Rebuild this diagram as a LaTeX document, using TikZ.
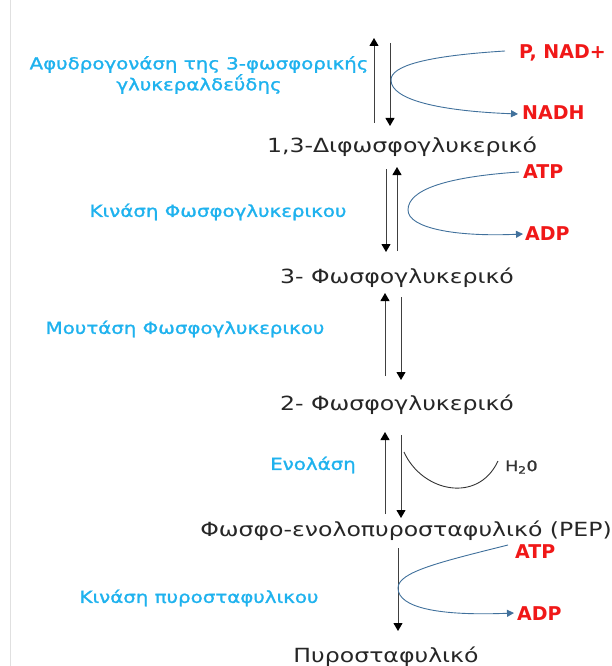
\documentclass[tikz,border=0pt]{standalone}
\usepackage{fontspec}
\setmainfont{DejaVu Sans}
\newfontfamily\molfont[FakeStretch=1.21]{DejaVu Sans}
\newfontfamily\semib[FakeBold=1.5,FakeStretch=1.2]{DejaVu Sans}
\newfontfamily\watfont[FakeBold=1.5,FakeStretch=1.2]{DejaVu Sans}
\usetikzlibrary{arrows.meta}
\definecolor{enz}{HTML}{1FB2EE}
\definecolor{cof}{HTML}{F01818}
\definecolor{curv}{HTML}{41719C}
\tikzset{
  mol/.style={font=\molfont\fontsize{19.5}{24}\selectfont, text=black!85, inner sep=0pt},
  enzyme/.style={font=\semib\fontsize{16.5}{21}\selectfont, text=enz, inner sep=0pt, align=center},
  cofac/.style={font=\bfseries\fontsize{19}{22}\selectfont, text=cof, inner sep=0pt},
  rxn/.style={line width=1pt, draw=black!75, -{Triangle[length=8pt,width=9pt,color=black]}},
  side/.style={line width=0.9pt, draw=curv, -{Triangle[length=7pt,width=7pt]}},
  water/.style={line width=0.9pt, draw=black!80}
}
\begin{document}
\begin{tikzpicture}[x=1pt,y=-1pt]
\useasboundingbox (0,0) rectangle (612,666);
\draw[black!12, line width=0.8pt] (10,0) -- (10,666);

% molecules
\node[mol] (bpg) at (402,147) {1,3-Διφωσφογλυκερικό};
\node[mol] (pg3) at (397,278) {3- Φωσφογλυκερικό};
\node[mol] (pg2) at (397,405) {2- Φωσφογλυκερικό};
\node[mol] (pep) at (406,531) {Φωσφο-ενολοπυροσταφυλικό (PEP)};
\node[mol] (pyr) at (386,657) {Πυροσταφυλικό};

% enzymes
\node[enzyme] (e1) at (199,75) {Αφυδρογονάση της 3-φωσφορικής\\γλυκεραλδεΰδης};
\node[enzyme] (e2) at (218,212) {Κινάση Φωσφογλυκερικου};
\node[enzyme] (e3) at (185,329) {Μουτάση Φωσφογλυκερικου};
\node[enzyme] (e4) at (313,465) {Ενολάση};
\node[enzyme] (e5) at (199,598) {Κινάση πυροσταφυλικου};

% cofactors
\node[cofac, anchor=west] (nad) at (519,53) {P, NAD+};
\node[cofac, anchor=west] (nadh) at (522,113) {NADH};
\node[cofac, anchor=west] (atp1) at (523,172) {ATP};
\node[cofac, anchor=west] (adp1) at (525,234) {ADP};
\node[cofac, anchor=west] (atp2) at (515,552) {ATP};
\node[cofac, anchor=west] (adp2) at (517,614) {ADP};
\node[font=\watfont\fontsize{14.5}{16}\selectfont, text=black!80, anchor=west, inner sep=0pt] (h2o) at (505,467) {H\textsubscript{2}0};

% step 1
\coordinate (u1s) at (374,123); \coordinate (u1e) at (374,38);
\coordinate (d1s) at (390,43);  \coordinate (d1e) at (390,126);
\draw[rxn] (u1s) -- (u1e);
\draw[rxn] (d1s) -- (d1e);
\coordinate (m1) at (391,80);
\draw[side] ([xshift=-14pt,yshift=2pt]nad.west) .. controls (425,56) and (391,66) .. (m1)
  .. controls (391,100) and (440,111) .. ([xshift=-4pt,yshift=-1pt]nadh.west);

% step 2
\coordinate (d2s) at (386,169); \coordinate (d2e) at (386,252);
\coordinate (u2s) at (397,251); \coordinate (u2e) at (397,167);
\draw[rxn] (d2s) -- (d2e);
\draw[rxn] (u2s) -- (u2e);
\coordinate (m2) at (408,210);
\draw[side] ([xshift=-4pt]atp1.west) .. controls (445,177) and (408,190) .. (m2)
  .. controls (408,228) and (455,237) .. ([xshift=-2pt]adp1.west);

% step 3
\coordinate (u3s) at (385,376); \coordinate (u3e) at (385,293);
\coordinate (d3s) at (401,297); \coordinate (d3e) at (401,380);
\draw[rxn] (u3s) -- (u3e);
\draw[rxn] (d3s) -- (d3e);

% step 4
\coordinate (u4s) at (385,514); \coordinate (u4e) at (385,432);
\coordinate (d4s) at (401,435); \coordinate (d4e) at (401,518);
\draw[rxn] (u4s) -- (u4e);
\draw[rxn] (d4s) -- (d4e);
\coordinate (w1) at (404,452);
\draw[water] (w1) .. controls (422,492) and (478,504) .. ([xshift=-7pt,yshift=6pt]h2o.west);

% step 5
\coordinate (d5s) at (398,548); \coordinate (d5e) at (398,631);
\draw[rxn] (d5s) -- (d5e);
\coordinate (m5) at (398,588);
\draw[side] ([xshift=-7pt,yshift=7pt]atp2.west) .. controls (440,562) and (398,572) .. (m5)
  .. controls (398,608) and (440,616) .. ([xshift=-3pt,yshift=1pt]adp2.west);
\end{tikzpicture}
\end{document}
